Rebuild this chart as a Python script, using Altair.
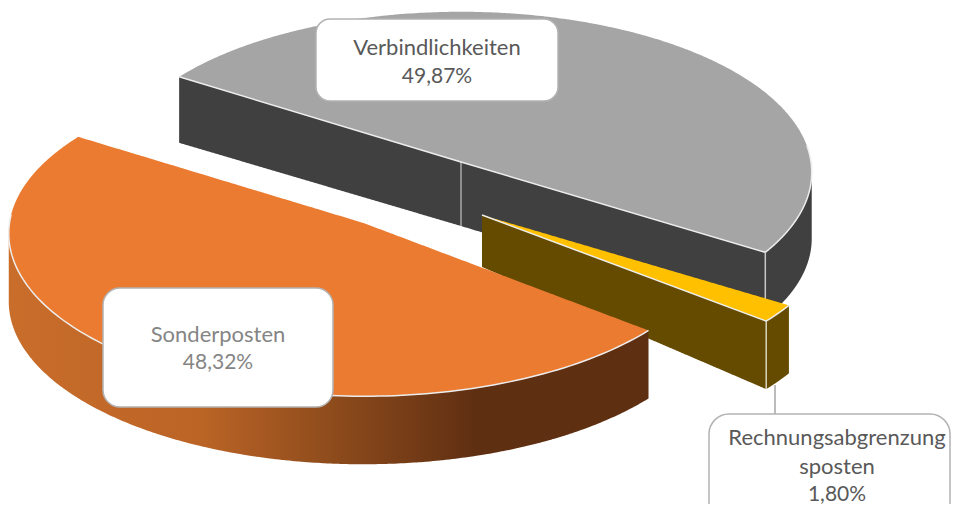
import altair as alt
import numpy as np
import pandas as pd

# ---- values ----
names = ["Verbindlichkeiten", "Rechnungsabgrenzung", "Sonderposten"]
shares = [49.87, 1.80, 48.32]
label_lines = [["Verbindlichkeiten"], ["Rechnungsabgrenzung", "sposten"], ["Sonderposten"]]

# ---- 3-D pie layout ----
START = 33.0 - 49.87 * 3.6
CENTERS = {"v": (461, 162), "r": (482, 215), "s": (363.5, 223)}
RAD_A = {"v": 350, "r": 353, "s": 354}
RAD_B = {"v": 160, "r": 160, "s": 162}
PERSP = 0.065
DEPTH_C = {"v": 64, "r": 52, "s": 68}
DEPTH_R = {"v": 66, "r": 68, "s": 68}

W, H = 943, 496
xs = alt.Scale(domain=[8, 8 + W], nice=False, zero=False)
ys = alt.Scale(domain=[8 + H, 8], nice=False, zero=False)
X = lambda f: alt.X(f, type="quantitative", scale=xs, axis=None)
Y = lambda f: alt.Y(f, type="quantitative", scale=ys, axis=None)


def project(key, deg, r=1.0):
    t = np.radians(np.atleast_1d(deg))
    cx, cy = CENTERS[key]
    u, v = r * np.cos(t), r * np.sin(t)
    p = 1 / (1 - PERSP * v)
    return cx + RAD_A[key] * u * p, cy + RAD_B[key] * v * p


def depth(key, r):
    return DEPTH_C[key] + (DEPTH_R[key] - DEPTH_C[key]) * r


def band(px, py):
    """Upper and lower edge of a closed outline, for an area mark."""
    px, py = np.asarray(px, float), np.asarray(py, float)
    qx, qy = np.roll(px, -1), np.roll(py, -1)
    grid = np.unique(np.concatenate([px, np.linspace(px.min(), px.max(), 200)]))
    rows = []
    for g in grid:
        hits = []
        for a, b, c, d in zip(px, py, qx, qy):
            if min(a, c) <= g <= max(a, c):
                if a == c:
                    hits += [b, d]
                else:
                    hits.append(b + (d - b) * (g - a) / (c - a))
        rows.append((g, min(hits), max(hits)))
    return pd.DataFrame(rows, columns=["x", "y", "y2"])


def poly(px, py, fill, **kw):
    return alt.Chart(band(px, py)).mark_area(fill=fill, orient="vertical", **kw).encode(
        x=X("x"), y=Y("y"), y2=alt.Y2("y2")
    )


def top(key, a0, a1, fill):
    t = np.linspace(a0, a1, 160)
    rx, ry = project(key, t)
    cx, cy = CENTERS[key]
    return poly(np.r_[cx, rx], np.r_[cy, ry], fill)


def rim_wall(key, a0, a1, fill):
    t = np.linspace(a0, a1, 120)
    rx, ry = project(key, t)
    d = depth(key, 1)
    return poly(np.r_[rx, rx[::-1]], np.r_[ry, (ry + d)[::-1]], fill)


def cut_wall(key, a, fill):
    rx, ry = project(key, a)
    cx, cy = CENTERS[key]
    return poly([cx, rx[0], rx[0], cx],
                [cy, ry[0], ry[0] + depth(key, 1), cy + depth(key, 0)], fill)


def edge(x, y0, y1, color):
    df = pd.DataFrame({"x": [x], "y": [y0], "y2": [y1]})
    return alt.Chart(df).mark_rule(color=color, strokeWidth=1.5).encode(
        x=X("x"), y=Y("y"), y2=alt.Y2("y2")
    )


def seam(px, py, color="#ededed"):
    df = pd.DataFrame({"x": px, "y": py, "i": np.arange(len(px))})
    return alt.Chart(df).mark_line(color=color, strokeWidth=1.5).encode(
        x=X("x"), y=Y("y"), order=alt.Order("i:Q")
    )


def rim_seam(key, a0, a1):
    rx, ry = project(key, np.linspace(a0, a1, 120))
    return seam(rx, ry)


def cut_seam(key, a):
    rx, ry = project(key, a)
    cx, cy = CENTERS[key]
    return seam([cx, rx[0]], [cy, ry[0]])


a_v0 = START
a_v1 = a_v0 + shares[0] * 3.6
a_r1 = a_v1 + shares[1] * 3.6
a_s1 = a_r1 + shares[2] * 3.6

orange_side = alt.Gradient(
    gradient="linear", x1=0, x2=1, y1=0, y2=0,
    stops=[
        alt.GradientStop(color="#c96d2b", offset=0),
        alt.GradientStop(color="#bb6426", offset=0.3),
        alt.GradientStop(color="#8f4c1c", offset=0.5),
        alt.GradientStop(color="#5f2f12", offset=0.73),
        alt.GradientStop(color="#5f2f12", offset=1),
    ],
)

layers = []
# grey slice
WALL_V, WALL_R = "#404040", "#644b00"
layers += [
    rim_wall("v", a_v1, -6, WALL_V),
    cut_wall("v", a_v0, WALL_V),
    cut_wall("v", a_v1, WALL_V),
    edge(CENTERS["v"][0], CENTERS["v"][1], CENTERS["v"][1] + depth("v", 0), "#a8a8a8"),
]
rvx, rvy = project("v", a_v1)
layers += [edge(rvx[0], rvy[0], rvy[0] + depth("v", 1), "#c8c8c8")]
layers += [
    top("v", a_v0, a_v1, "#a5a5a5"),
    cut_seam("v", a_v0),
    cut_seam("v", a_v1),
    rim_seam("v", a_v1, -6),
]
# gold slice
layers += [
    cut_wall("r", a_r1, WALL_R),
    rim_wall("r", a_v1, a_r1, WALL_R),
]
rrx, rry = project("r", a_r1)
layers += [edge(rrx[0], rry[0], rry[0] + depth("r", 1), "#d8d4c0")]
layers += [top("r", a_v1, a_r1, "#ffc000"), cut_seam("r", a_r1), rim_seam("r", a_v1, a_r1)]
# orange slice
layers += [
    rim_wall("s", a_r1, 183, orange_side),
    top("s", a_r1, a_s1, "#ea7b30"),
    rim_seam("s", a_r1, 183),
]

# leader line
layers += [edge(775, 385, 414, "#a6a6a6")]

# label boxes and text
boxes = pd.DataFrame({
    "x": [316, 709, 103], "x2": [558, 950, 333],
    "y": [19, 414, 288], "y2": [101, 522, 407],
    "r": [14, 20, 17],
})
text_rows = []
text_color = ["#595959", "#595959", "#858585"]
line_y = [[48, 77], [438, 467, 495], [335, 363]]
mid_x = [437, 837, 218]
for i, (lines, val) in enumerate(zip(label_lines, shares)):
    full = lines + [f"{val:.2f}".replace(".", ",") + "%"]
    for j, (t, y) in enumerate(zip(full, line_y[i])):
        size = 21 if j == len(full) - 1 else 22
        text_rows.append({"x": mid_x[i], "y": y, "t": t, "c": text_color[i], "s": size})
labels = pd.DataFrame(text_rows)

for _, b in boxes.iterrows():
    layers.append(
        alt.Chart(pd.DataFrame([b])).mark_rect(
            fill="white", stroke="#b3b3b3", strokeWidth=1.5, cornerRadius=int(b["r"])
        ).encode(x=X("x"), x2=alt.X2("x2"), y=Y("y"), y2=alt.Y2("y2"))
    )
for (c, s), g in labels.groupby(["c", "s"]):
    layers.append(
        alt.Chart(g).mark_text(font="Lato", fontSize=int(s), color=c, baseline="middle", align="center").encode(
            x=X("x"), y=Y("y"), text="t:N"
        )
    )

chart = alt.layer(*layers).properties(
    width=W, height=H, padding=0,
    autosize=alt.AutoSizeParams(type="none"), background="white",
).configure_view(stroke=None)

chart.save("out.html", embed_options={"renderer": "svg", "actions": False})
